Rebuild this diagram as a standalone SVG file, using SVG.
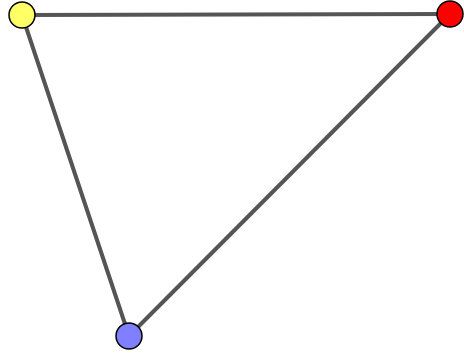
<svg xmlns="http://www.w3.org/2000/svg" width="464" height="357" viewBox="0 0 464 357">
<style>
.edge{stroke:#555;stroke-width:4;fill:none}
.node{stroke:#000;stroke-width:1.5}
</style>
<rect width="464" height="357" fill="#fff"/>
<g id="edges">
<line class="edge" x1="22" y1="15" x2="450" y2="14"/>
<line class="edge" x1="22" y1="15" x2="129" y2="336"/>
<line class="edge" x1="450" y1="14" x2="129" y2="336"/>
</g>
<g id="n1"><circle class="node" cx="22" cy="15" r="13" fill="#ffff66"/></g>
<g id="n2"><circle class="node" cx="450" cy="14" r="13" fill="#ff0000"/></g>
<g id="n3"><circle class="node" cx="129" cy="336" r="13" fill="#7f7fff"/></g>
</svg>
